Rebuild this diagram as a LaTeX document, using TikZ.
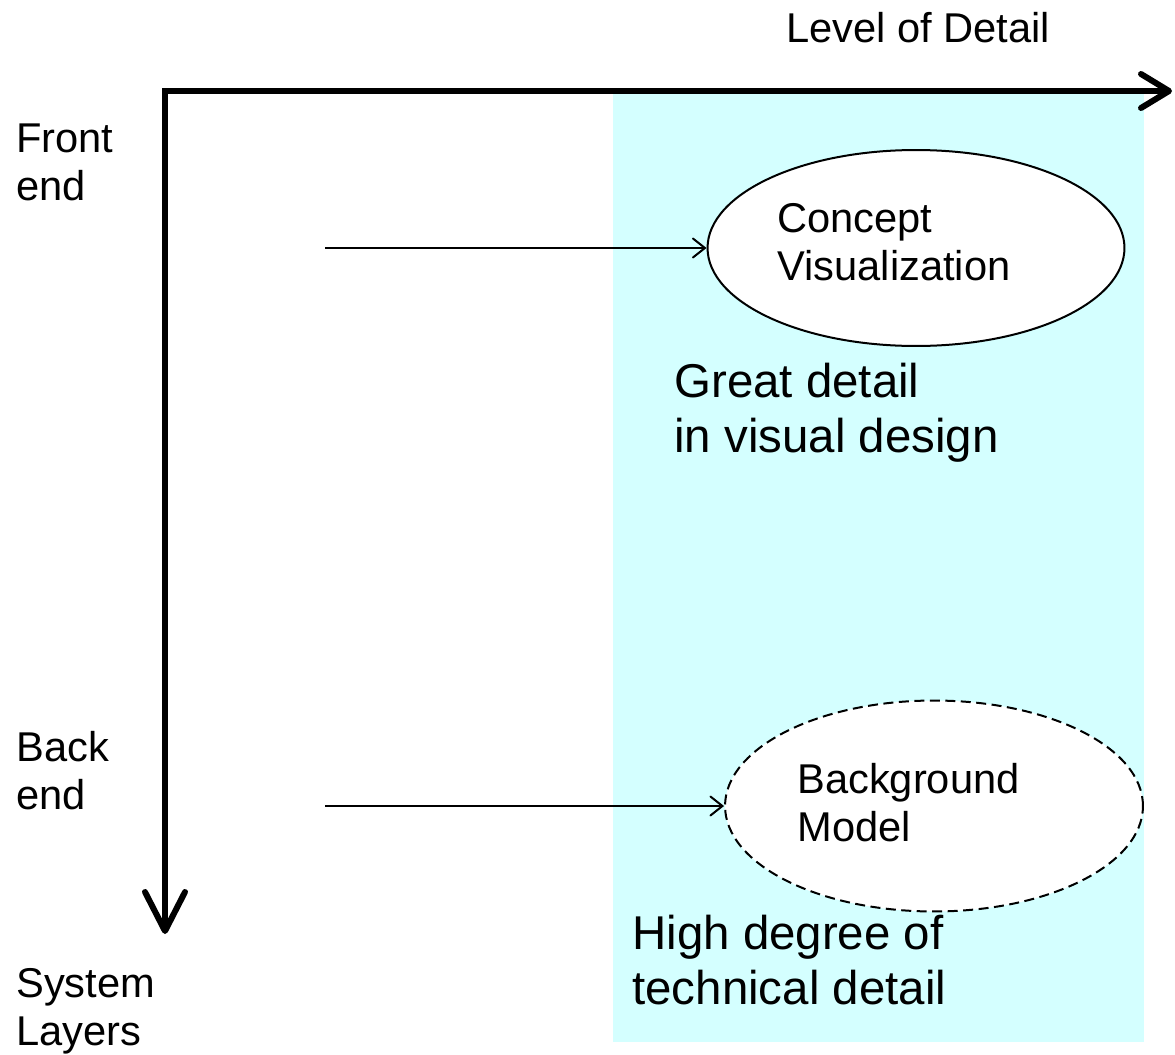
\documentclass[tikz,border=0pt]{standalone}
\usepackage{fontspec}
\setmainfont{Liberation Sans}
\usetikzlibrary{shapes.geometric,arrows.meta}
\definecolor{detailcyan}{RGB}{212,255,255}
\tikzset{
	axis/.style={line width=0.12cm, line join=miter},
	feed/.style={line width=0.04cm, -{Straight Barb[length=0.24cm,width=0.38cm,line cap=round]}},
	layer/.style={ellipse, draw, fill=white, line width=0.04cm, inner sep=0pt},
	lbl/.style={anchor=base west, align=left, inner sep=0pt, font=\fontsize{23.7}{27.3}\selectfont},
	biglbl/.style={lbl, font=\fontsize{27}{31.3}\selectfont}
}
\begin{document}
\begin{tikzpicture}[x=0.02cm, y=-0.02cm]
		\useasboundingbox (0, 0) rectangle (1175, 1054);
		\fill[detailcyan] (613, 94) rectangle (1144, 1042); % zona de detalle
		\coordinate (origin) at (165, 91);
		\coordinate (xtip) at (1172, 91);
		\coordinate (ytip) at (165, 934);
		\draw[axis, {Straight Barb[length=0.78cm,width=0.8cm,line cap=round,line join=round]}-{Straight Barb[length=0.56cm,width=0.68cm,line cap=round,line join=round]}]
		(ytip) -- (origin) -- (xtip);
		\node[layer, minimum width=8.34cm, minimum height=3.92cm] (concept) at (916, 248) {};
		\node[layer, dashed, dash pattern=on 0.2cm off 0.11cm, minimum width=8.36cm, minimum height=4.22cm] (background) at (934, 806) {};
		\coordinate (frontsrc) at (325, 248);
		\coordinate (backsrc) at (325, 806);
		\draw[feed] (frontsrc) -- (concept.west);
		\draw[feed] (backsrc) -- (background.west);
		% la base del nodo es la de la ultima linea
		\node[lbl] (lod) at (786, 43) {Level of Detail};
		\node[lbl] (frontend) at (16, 200) {Front\\end};
		\node[lbl] (backend) at (16, 809) {Back\\end};
		\node[lbl] (layers) at (16, 1045) {System\\Layers};
		\node[lbl] (concepttext) at (777, 280) {Concept\\Visualization};
		\node[lbl] (backgroundtext) at (797, 841) {Background\\Model};
		\node[biglbl] (greatdetail) at (674, 452) {Great detail\\in visual design};
		\node[biglbl] (techdetail) at (632, 1004) {High degree of\\technical detail};
	\end{tikzpicture}
\end{document}
